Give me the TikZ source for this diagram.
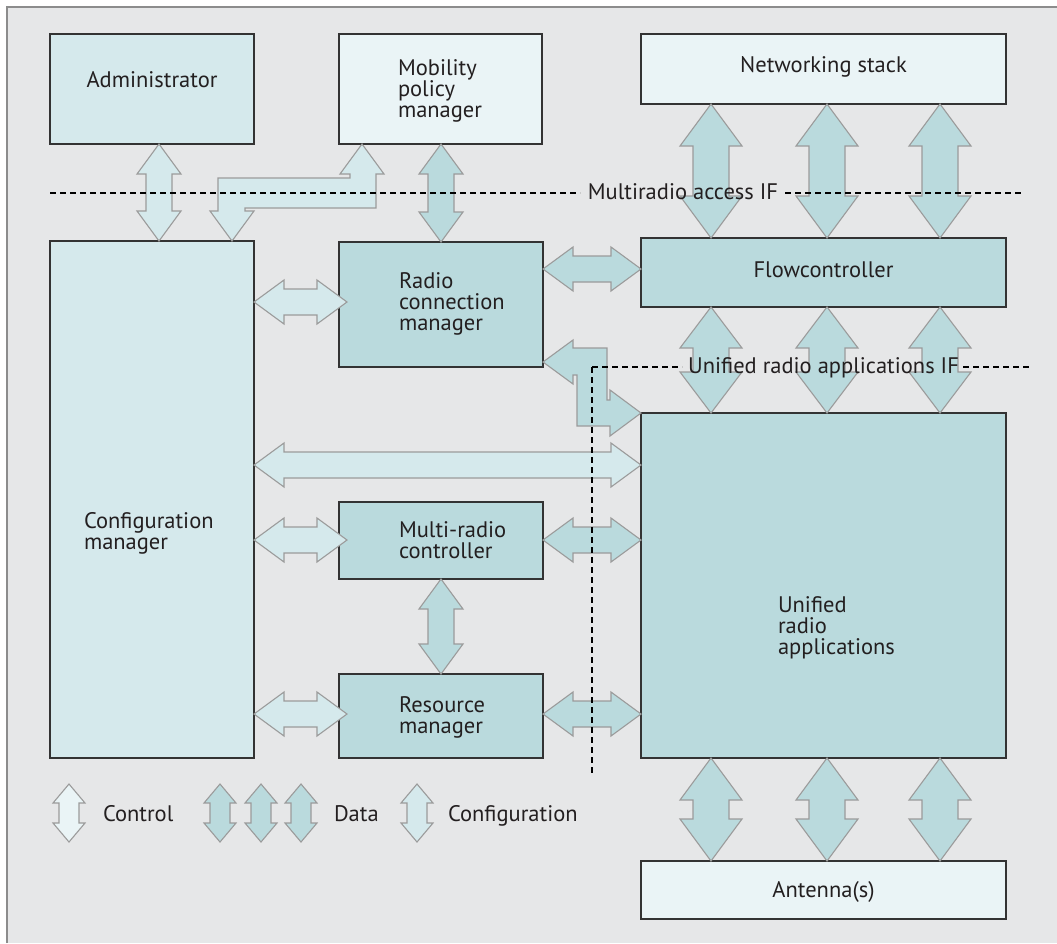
\documentclass[tikz,border=0pt]{standalone}
\usepackage{fontspec}
\setmainfont{PT Sans}
\usetikzlibrary{calc}
\definecolor{bg}{HTML}{E6E7E8}
\definecolor{ctrl}{HTML}{EAF4F6}
\definecolor{conf}{HTML}{D5E9EC}
\definecolor{data}{HTML}{BADADD}
\definecolor{framec}{HTML}{8C8C8C}
\definecolor{boxline}{HTML}{333333}
\definecolor{arrline}{HTML}{9B9B9B}
\definecolor{txt}{HTML}{231F20}
\newcommand\vdarrow[6]{\filldraw[blk,fill=#6] (#1) -- ($(#1)+(#3,#5)$) -- ($(#1)+(#4,#5)$) -- ($(#2)+(#4,-#5)$) -- ($(#2)+(#3,-#5)$) -- (#2) -- ($(#2)+(-#3,-#5)$) -- ($(#2)+(-#4,-#5)$) -- ($(#1)+(-#4,#5)$) -- ($(#1)+(-#3,#5)$) -- cycle;}
\newcommand\hdarrow[6]{\filldraw[blk,fill=#6] (#1) -- ($(#1)+(#5,-#3)$) -- ($(#1)+(#5,-#4)$) -- ($(#2)+(-#5,-#4)$) -- ($(#2)+(-#5,-#3)$) -- (#2) -- ($(#2)+(-#5,#3)$) -- ($(#2)+(-#5,#4)$) -- ($(#1)+(#5,#4)$) -- ($(#1)+(#5,#3)$) -- cycle;}
\begin{document}
\begin{tikzpicture}[x=1pt,y=-1pt,
  box/.style={draw=boxline, line width=1.4pt, inner sep=0pt, outer sep=0pt, anchor=north west},
  blk/.style={draw=arrline, line width=1.1pt, line join=miter},
  lbl/.style={inner sep=0pt, outer sep=0pt, text=txt, font=\fontsize{22.5}{21}\selectfont, align=left},
  ifline/.style={line width=2.3pt, dash pattern=on 6pt off 4pt, black}
]
\useasboundingbox (0,0) rectangle (1057,943);
\fill[white] (0,0) rectangle (1057,943);
\fill[bg] (7,7) rectangle (1057,943);
\draw[framec, line width=1.5pt] (7,943) -- (7,7) -- (1057,7);

% boxes
\node[box, fill=conf, minimum width=204pt, minimum height=110pt] (admin) at (50,34) {};
\node[box, fill=ctrl, minimum width=203pt, minimum height=110pt] (mob) at (339,34) {};
\node[box, fill=ctrl, minimum width=365pt, minimum height=70pt] (ns) at (641,34) {};
\node[box, fill=conf, minimum width=204pt, minimum height=517pt] (cfg) at (50,241) {};
\node[box, fill=data, minimum width=204pt, minimum height=125pt] (rcm) at (339,242) {};
\node[box, fill=data, minimum width=365pt, minimum height=69pt] (flow) at (641,238) {};
\node[box, fill=data, minimum width=204pt, minimum height=77pt] (mrc) at (339,502) {};
\node[box, fill=data, minimum width=204pt, minimum height=84pt] (res) at (339,674) {};
\node[box, fill=data, minimum width=365pt, minimum height=345pt] (uni) at (641,413) {};
\node[box, fill=ctrl, minimum width=365pt, minimum height=58pt] (ant) at (641,861) {};

% arrow end points
\coordinate (c1a) at (159,0 |- admin.south);
\coordinate (c1b) at (159,0 |- cfg.north);
\coordinate (c2a) at (cfg.east |- 0,302);
\coordinate (c2b) at ($(rcm.west |- 0,302)+(8,0)$);
\coordinate (c3a) at (cfg.east |- 0,465);
\coordinate (c3b) at (uni.west |- 0,465);
\coordinate (c4a) at (cfg.east |- 0,540);
\coordinate (c4b) at ($(mrc.west |- 0,540)+(8,0)$);
\coordinate (c5a) at (cfg.east |- 0,714);
\coordinate (c5b) at ($(res.west |- 0,714)+(8,0)$);
\coordinate (d1a) at (rcm.north |- mob.south);
\coordinate (d1b) at (rcm.north);
\coordinate (d2a) at (rcm.east |- 0,269);
\coordinate (d2b) at (flow.west |- 0,269);
\coordinate (d3a) at (mrc.east |- 0,540);
\coordinate (d3b) at (uni.west |- 0,540);
\coordinate (d4a) at (res.east |- 0,714);
\coordinate (d4b) at (uni.west |- 0,714);
\coordinate (d5a) at (mrc.south);
\coordinate (d5b) at (res.north);

% configuration arrows
\vdarrow{c1a}{c1b}{22}{13}{30}{conf}
\hdarrow{c2a}{c2b}{22}{13}{30}{conf}
\hdarrow{c3a}{c3b}{22}{13}{30}{conf}
\hdarrow{c4a}{c4b}{22}{13}{30}{conf}
\hdarrow{c5a}{c5b}{22}{13}{30}{conf}
% bent arrow mobility policy manager <-> configuration manager
\coordinate (e1a) at (362,0 |- mob.south);
\coordinate (e1b) at (232,0 |- cfg.north);
\filldraw[blk, fill=conf] (e1a) -- (384,174) -- (376,174) -- (376,208) -- (245,208) -- (245,211) -- (254,211) -- (e1b) -- (210,211) -- (218,211) -- (218,178) -- (350,178) -- (350,174) -- (340,174) -- cycle;

% data arrows
\vdarrow{d1a}{d1b}{22}{13}{30}{data}
\hdarrow{d2a}{d2b}{22}{13}{30}{data}
\hdarrow{d3a}{d3b}{22}{13}{30}{data}
\hdarrow{d4a}{d4b}{22}{13}{30}{data}
\vdarrow{d5a}{d5b}{22}{13}{30}{data}
\foreach \xx/\nn in {711/1,827/2,940/3}{
  \coordinate (na\nn) at (\xx,0 |- ns.south);
  \coordinate (nb\nn) at (\xx,0 |- flow.north);
  \vdarrow{na\nn}{nb\nn}{31}{18}{42}{data}
  \coordinate (fa\nn) at (\xx,0 |- flow.south);
  \coordinate (fb\nn) at (\xx,0 |- uni.north);
  \vdarrow{fa\nn}{fb\nn}{31}{18}{41}{data}
  \coordinate (ua\nn) at (\xx,0 |- uni.south);
  \coordinate (ub\nn) at (\xx,0 |- ant.north);
  \vdarrow{ua\nn}{ub\nn}{31}{18}{42}{data}
}
% bent arrow radio connection manager <-> unified radio applications
\coordinate (g1a) at (rcm.east |- 0,362);
\coordinate (g1b) at (uni.north west);
\filldraw[blk, fill=data] (g1a) -- (573,340) -- (573,348) -- (607,348) -- (607,400) -- (610,400) -- (610,390) -- (g1b) -- (610,436) -- (610,426) -- (577,426) -- (577,375) -- (573,375) -- (573,384) -- cycle;

% legend arrows
\coordinate (la1) at (69,784); \coordinate (lb1) at (69,842);
\coordinate (la2) at (220,784); \coordinate (lb2) at (220,842);
\coordinate (la3) at (261,784); \coordinate (lb3) at (261,842);
\coordinate (la4) at (301,784); \coordinate (lb4) at (301,842);
\coordinate (la5) at (417,784); \coordinate (lb5) at (417,842);
\vdarrow{la1}{lb1}{16}{10}{19}{ctrl}
\vdarrow{la2}{lb2}{16}{10}{19}{data}
\vdarrow{la3}{lb3}{16}{10}{19}{data}
\vdarrow{la4}{lb4}{16}{10}{19}{data}
\vdarrow{la5}{lb5}{16}{10}{19}{conf}

% interface lines
\draw[ifline] (50,193) -- (580,193);
\draw[ifline] (785,193) -- (1021,193);
\draw[ifline] (592,367) -- (682,367);
\draw[ifline] (963,367) -- (1032,367);
\draw[ifline] (592,367) -- (592,773);

% labels
\node[lbl, anchor=base] (tadmin) at (152,87) {Administrator};
\node[lbl, anchor=north west] (tmob) at (398,60) {Mobility\\policy\\manager};
\node[lbl, anchor=base] (tns) at (823.5,72) {Networking stack};
\node[lbl, anchor=base] (tmra) at (683,199) {Multiradio access IF};
\node[lbl, anchor=north west] (trcm) at (399,273) {Radio\\connection\\manager};
\node[lbl, anchor=base] (tflow) at (823.5,277) {Flowcontroller};
\node[lbl, anchor=base] (turi) at (823.5,373) {Unified radio applications IF};
\node[lbl, anchor=north west] (tcfg) at (84,512) {Configuration\\manager};
\node[lbl, anchor=north west] (tmrc) at (399,522) {Multi-radio\\controller};
\node[lbl, anchor=north west] (tres) at (399,697) {Resource\\manager};
\node[lbl, anchor=north west] (tuni) at (778,597) {Unified\\radio\\applications};
\node[lbl, anchor=base] (tant) at (823.5,897) {Antenna(s)};
\node[lbl, anchor=base west] (lctrl) at (103,821) {Control};
\node[lbl, anchor=base west] (ldata) at (334,821) {Data};
\node[lbl, anchor=base west] (lconf) at (448,821) {Configuration};
\end{tikzpicture}
\end{document}
